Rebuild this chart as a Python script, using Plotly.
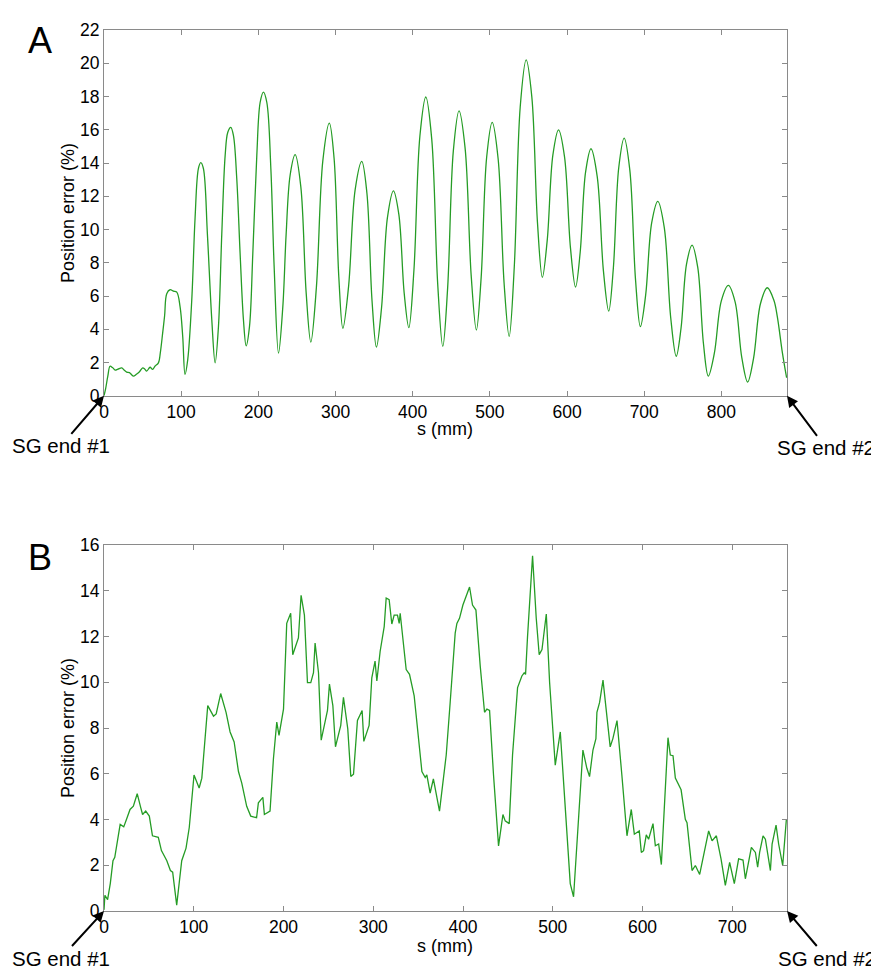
import plotly.graph_objects as go

# ---------------- Data: panel A ----------------
a_s = [0, 2, 5, 7.8, 11, 14.3, 18, 23, 26, 29.4, 33, 38, 42, 46, 50.2, 53, 55.3, 59.7, 63, 66,
       70.5, 73, 76, 78.5, 81.3, 85.6, 90, 94.3, 98.6, 102, 105, 108.5, 113.7, 118, 122.3, 125.4,
       128.8, 134, 139.7, 144, 148.3, 152.6, 157, 160.4, 164.3, 167.7, 172, 176.4, 180.7, 184.2,
       188.5, 192.8, 198, 202.3, 206.6, 211, 216.2, 220.5, 226.1, 231.7, 236, 241.2, 247.7,
       255, 262, 268, 275.2, 283.6, 292, 298.1, 304.25, 309.5, 316.9, 325.4, 334, 340.65, 347.3,
       353, 359.6, 367.3, 375, 382, 389, 395, 401.6, 409.3, 417, 424.7, 432.4, 439, 445.3, 452.65,
       460, 467.9, 475.75, 482.5, 488.65, 495.8, 503, 510.7, 518.4, 525, 531.6, 539.3, 547,
       554.35, 561.7, 568, 574.3, 581.65, 589, 596.7, 604.4, 611, 617, 624, 631, 639.05, 647.1,
       654, 660, 667, 674, 681.35, 688.7, 695, 701.8, 709.7, 717.6, 726, 734.3, 741.5, 747.65,
       754.8, 762, 769.35, 776.7, 783, 790.8, 799.9, 809, 817.75, 826.5, 834, 841.65, 850.6,
       859.5, 868, 872.5, 879, 884.5]
a_err = [0, 0.4, 1.2, 1.78, 1.7, 1.55, 1.6, 1.68, 1.55, 1.43, 1.4, 1.19, 1.3, 1.45, 1.68, 1.6, 1.49,
         1.72, 1.59, 1.78, 1.98, 2.6, 3.77, 4.8, 6.14, 6.38, 6.3, 6.24, 5.35, 3.57, 1.29, 2.18, 5.75,
         10.7, 13.67, 14.03, 13.67, 9.71, 4.56, 1.98, 4.16, 9.71, 14.46, 15.85, 16.15, 15.66, 13.08,
         8.52, 4.56, 3.01, 4.16, 8.52, 14.46, 17.64, 18.27, 17.64, 13.67, 7.73, 2.57, 5.35, 9.71,
         13.28, 14.5,
         12.58, 6.16, 3.23, 6.52, 14.16, 16.4, 14.3, 7.15, 4.06, 6.57, 12.39, 14.1, 12.2, 5.72,
         2.93, 5.28, 10.73, 12.33, 10.93, 6.16, 4.1, 7.57, 15.61, 17.97, 15.42, 6.72, 2.97, 6.51,
         14.73, 17.14, 14.9, 7.26, 3.96, 7.08, 14.33, 16.45, 14.26, 6.79, 3.57, 7.73, 17.37, 20.2,
         17.98, 10.4, 7.13, 9.35, 14.49, 16.0, 14.39, 8.91, 6.54, 8.62, 13.45, 14.86, 13.2, 7.53,
         5.09, 7.69, 13.73, 15.5, 13.57, 7.0, 4.16, 6.04, 10.41, 11.69, 10.11, 4.71, 2.38, 4.05,
         7.92, 9.06, 7.72, 3.16, 1.19, 2.55, 5.71, 6.64, 5.65, 2.28, 0.83, 2.25, 5.54,
         6.5, 5.75, 4.75, 2.6, 1.09]

# ---------------- Data: panel B ----------------
b_s = [0, 1, 4, 7, 10, 12, 18, 22, 25, 29, 32.7, 37, 41, 43, 46.5, 50.5, 54, 60.5, 64, 70, 74,
       76.5, 81, 86.6, 91.4, 95, 100.3, 106, 109, 115.6, 122, 125, 130, 136, 140.5, 145, 149.8,
       153.5, 159, 163.5, 170, 172, 177, 178.7, 185, 188.8, 192.5, 195, 200, 203.6, 208, 210.3,
       216.6, 219.6, 223.3, 226.7, 230.4, 233.4, 235.2, 239, 242, 249, 251.2, 255, 257.9, 263.8,
       266.8, 271.6, 275, 278, 282.4, 287.6, 289.5, 295.4, 298.4, 302, 304, 307.7, 312.2, 314.4,
       317.7, 320.7, 323.3, 327, 328.9, 330, 336.7, 340.4, 345.6, 350.4, 354.2, 357.9, 359.7,
       363.4, 367, 373.8, 381.3, 385.7, 391.3, 393.2, 396.1, 399.9, 407.3, 410.6, 414.4, 419.2,
       424, 426.6, 429.6, 434, 439.6, 444.5, 447, 451.5, 455.2, 460.8, 465.6, 468.2, 469.7,
       471.9, 477.5, 481.6, 484.9, 488, 492.8, 496.5, 502.8, 508.4, 515.8, 519.5, 523.2, 527.7,
       533.6, 538, 541, 544.8, 548.1, 549.2, 552.2, 556, 559.6, 564, 567, 571.6, 577, 582.7,
       587.5, 590.9, 596.4, 598.7, 601.2, 604.2, 606.8, 611.7, 614.3, 618, 621, 628.4, 631, 634,
       636.6, 643, 647.7, 649.6, 655.2, 658.9, 663.7, 668.2, 673.7, 677.5, 682.3, 687.5, 692.3,
       697.1, 702.3, 707.1, 712, 714.6, 721.3, 725.8, 728.3, 730.5, 734.3, 736.9, 742.5, 744.4,
       748.8, 751.7, 756.2, 760.3]
b_err = [0.05, 0.69, 0.5, 1.2, 2.2, 2.35, 3.79, 3.68, 4.0, 4.44, 4.58, 5.13, 4.51, 4.22, 4.37,
         4.15, 3.29, 3.22, 2.64, 2.2, 1.77, 1.7, 0.26, 2.2, 2.75, 3.65, 5.95, 5.38, 5.81, 8.98,
         8.52, 8.62, 9.51, 8.69, 7.83, 7.39, 6.1, 5.59, 4.58, 4.15, 4.08, 4.73, 4.97, 4.22, 4.37,
         6.67, 8.26, 7.68, 8.83, 12.58, 13.02, 11.21, 11.94, 13.81, 12.94, 9.99, 9.99, 10.42,
         11.72, 10.42, 7.47, 8.77, 9.92, 8.98, 7.18, 8.12, 9.34, 7.97, 5.88, 5.98, 8.33, 8.77,
         7.42, 8.12, 10.2, 10.93, 10.06, 11.36, 12.44, 13.69, 13.62, 12.55, 12.94, 12.94, 12.58,
         13.02, 10.56, 10.35, 9.41, 7.54, 6.1, 5.84, 5.95, 5.16, 5.78, 4.37, 6.82, 9.12, 12.15,
         12.58, 12.8, 13.38, 14.17, 13.38, 13.16, 10.71, 8.69, 8.83, 8.77, 5.95, 2.85, 4.22, 3.94,
         3.82, 6.82, 9.77, 10.28, 10.42, 10.35, 12.0, 15.54, 12.8, 11.21, 11.43, 12.99, 9.99,
         6.38, 7.83, 3.5, 1.2, 0.62, 3.36, 7.04, 6.24, 5.88, 7.04, 7.54, 8.69, 9.12, 10.1, 8.83,
         7.18, 7.54, 8.33, 5.95, 3.29, 4.44, 3.36, 3.5, 2.56, 2.64, 3.33, 3.14, 3.82, 2.85, 2.93,
         2.03, 7.58, 6.82, 6.79, 5.81, 5.3, 4.01, 3.86, 1.77, 1.99, 1.6, 2.49, 3.5, 3.07, 3.29,
         2.28, 1.12, 2.13, 1.2, 2.28, 2.23, 1.41, 2.78, 2.56, 1.92, 2.56, 3.29, 3.14, 1.77, 2.93,
         3.76, 2.93, 1.99, 4.01]

a_xmax = 885
b_xmax = 761
a_ymax = 22
b_ymax = 16
panel_labels = ["A", "B"]
x_title = "s (mm)"
y_title = "Position error (%)"
end1 = "SG end #1"
end2 = "SG end #2"

# ---------------- Layout geometry ----------------
# page offset of the plot div (default body margin)
OFF = 8
W, H = 879 - OFF, 972 - OFF
# plot areas in page pixels: x 104..787, top panel y 20..390, bottom panel y 541..911
L = 104 - OFF
R = W - (787 - OFF)
T = 20 - OFF
B = H - (911 - OFF)
plot_h = H - T - B
plot_w = W - L - R


def px(xp):
    return (xp - OFF - L) / plot_w


def py(yp):
    return (H - B - (yp - OFF)) / plot_h


FONT = "Liberation Sans, Arial, sans-serif"
GREEN = "#259c25"
GRAY = "#8a8a8a"

fig = go.Figure()
fig.add_trace(go.Scatter(x=a_s, y=a_err, mode="lines", line=dict(color=GREEN, width=1.3, shape="spline"),
                         xaxis="x", yaxis="y", showlegend=False, hoverinfo="skip"))
fig.add_trace(go.Scatter(x=b_s, y=b_err, mode="lines", line=dict(color=GREEN, width=1.3),
                         xaxis="x2", yaxis="y2", showlegend=False, hoverinfo="skip"))

axis_common = dict(showgrid=False, zeroline=False, showline=True, linecolor=GRAY, linewidth=1,
                   mirror="ticks", ticks="inside", ticklen=5, tickcolor=GRAY, tickwidth=1,
                   tickfont=dict(family=FONT, size=17.5, color="black"))

fig.update_layout(
    width=W, height=H,
    margin=dict(l=L, r=R, t=T, b=B),
    paper_bgcolor="white", plot_bgcolor="white",
    xaxis=dict(domain=[0, 1], range=[0, a_xmax], dtick=100, tick0=0, anchor="y", **axis_common),
    yaxis=dict(domain=[py(390), 1], range=[0, a_ymax], dtick=2, tick0=0, anchor="x", **axis_common),
    xaxis2=dict(domain=[0, 1], range=[0, b_xmax], dtick=100, tick0=0, anchor="y2", **axis_common),
    yaxis2=dict(domain=[0, py(541)], range=[0, b_ymax], dtick=2, tick0=0, anchor="x2", **axis_common),
)

ann = []
for lab, yc in zip(panel_labels, [31, 553]):
    ann.append(dict(text=lab, x=px(40), y=py(yc), xref="paper", yref="paper", showarrow=False,
                    xanchor="center", yanchor="middle", font=dict(family=FONT, size=36, color="black")))
for yc in [205, 726]:
    ann.append(dict(text=y_title, x=px(68), y=py(yc), xref="paper", yref="paper", showarrow=False,
                    textangle=-90, xanchor="center", yanchor="middle",
                    font=dict(family=FONT, size=18, color="black")))
for yc in [424, 946]:
    ann.append(dict(text=x_title, x=px(445), y=py(yc), xref="paper", yref="paper", showarrow=False,
                    xanchor="center", yanchor="middle", font=dict(family=FONT, size=18, color="black")))

arrow_style = dict(showarrow=True, arrowhead=2, arrowsize=1.1, arrowwidth=2, arrowcolor="black",
                   font=dict(family=FONT, size=20.5, color="black"), standoff=0, borderpad=0)
ann.append(dict(text=end1, x=0, y=0, xref="x", yref="y", ax=-43, ay=50, **arrow_style))
ann.append(dict(text=end2, x=a_xmax, y=0, xref="x", yref="y", ax=39, ay=52, **arrow_style))
ann.append(dict(text=end1, x=0, y=0, xref="x2", yref="y2", ax=-43, ay=47, **arrow_style))
ann.append(dict(text=end2, x=b_xmax, y=0, xref="x2", yref="y2", ax=40, ay=47, **arrow_style))

fig.update_layout(annotations=ann)
fig.write_html("out.html")
